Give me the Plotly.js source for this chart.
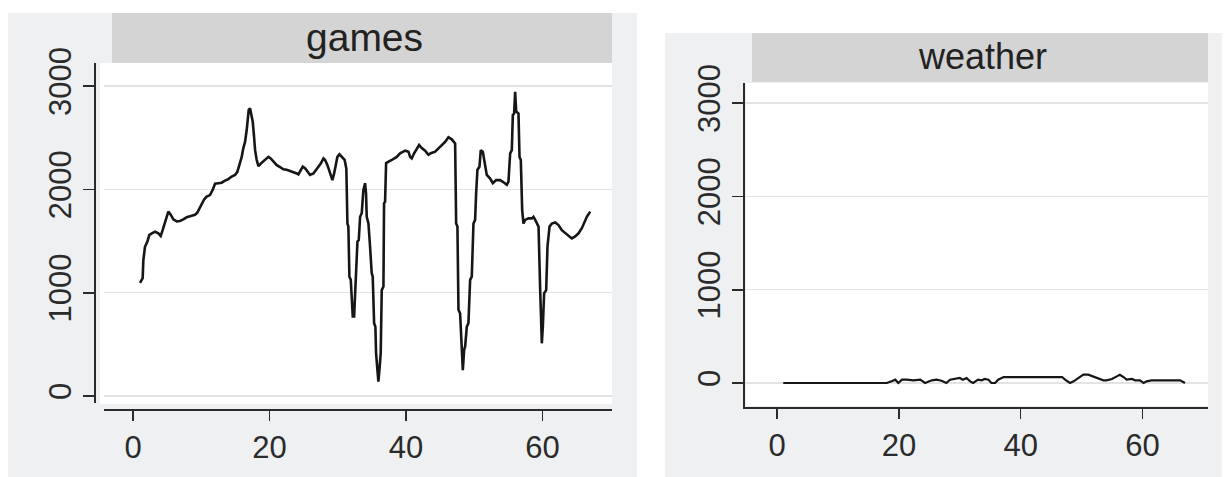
<!DOCTYPE html>
<html>
<head>
<meta charset="utf-8">
<script src="https://cdn.plot.ly/plotly-3.0.1.min.js"></script>
<style>
  html, body { margin: 0; padding: 0; background: #ffffff; }
  #chart { width: 1228px; height: 477px; }
</style>
</head>
<body>
<div id="chart"></div>
<script>
// ---- data ----
const panelTitles = ["games", "weather"];
const xTickVals = [0, 20, 40, 60];
const yTickVals = [0, 1000, 2000, 3000];

const gamesWeek = [1.0,1.39,1.49,1.73,2.08,2.37,2.86,3.2,3.69,4.03,4.32,4.66,4.9,5.15,5.5,5.89,6.38,6.86,7.35,7.84,8.58,9.06,9.4,9.7,10.04,10.38,10.77,11.26,11.65,12.0,12.48,12.97,13.46,13.95,14.44,14.93,15.27,15.57,15.91,16.15,16.4,16.64,16.79,16.94,17.13,17.38,17.53,17.72,17.87,18.11,18.36,18.7,19.09,19.58,19.82,20.16,20.56,21.05,21.54,22.02,22.51,23.0,23.49,23.98,24.22,24.47,24.86,25.2,25.54,25.93,26.42,26.82,27.16,27.5,27.9,28.14,28.48,28.77,29.02,29.21,29.46,29.7,29.94,30.24,30.58,31.0,31.25,31.41,31.55,31.7,31.9,32.19,32.39,32.53,32.68,32.88,33.07,33.27,33.51,33.75,34.0,34.14,34.24,34.49,34.73,34.97,35.12,35.32,35.51,35.61,35.81,35.95,36.1,36.29,36.44,36.69,36.78,36.93,37.08,37.42,37.91,38.64,39.13,39.87,40.36,40.6,40.84,41.19,41.58,41.92,42.31,42.8,43.29,43.63,44.27,45.0,45.73,46.22,46.71,47.2,47.35,47.54,47.69,47.93,48.18,48.33,48.52,48.67,48.91,49.15,49.4,49.64,49.89,50.13,50.28,50.47,50.77,50.96,51.26,51.45,51.65,51.84,52.33,52.73,53.21,53.8,54.39,54.78,55.02,55.27,55.51,55.66,55.85,56.0,56.15,56.49,56.64,56.83,57.03,57.22,57.47,57.96,58.45,58.69,58.94,59.18,59.43,59.67,59.81,59.91,60.06,60.25,60.55,60.74,61.04,61.38,61.87,62.36,62.84,63.58,64.31,64.8,65.29,65.78,66.51,67.0];
const games = [1095,1140,1315,1445,1495,1560,1580,1590,1575,1550,1605,1670,1735,1785,1755,1710,1690,1695,1710,1730,1745,1755,1775,1815,1865,1900,1930,1945,1995,2055,2060,2065,2085,2100,2125,2140,2170,2235,2315,2400,2460,2575,2670,2770,2785,2720,2655,2510,2380,2285,2225,2250,2270,2300,2315,2300,2270,2235,2215,2195,2190,2180,2170,2155,2145,2180,2220,2205,2170,2140,2155,2190,2215,2250,2300,2285,2235,2170,2125,2090,2155,2250,2315,2340,2315,2285,2200,1670,1640,1155,1125,770,770,1025,1190,1495,1510,1735,1770,1995,2060,1960,1735,1670,1445,1190,1155,705,670,415,250,140,250,415,1025,1060,1865,1880,2255,2270,2285,2315,2350,2375,2365,2315,2300,2350,2400,2430,2400,2375,2335,2350,2365,2415,2460,2505,2485,2445,1670,1640,835,800,480,250,445,480,670,705,1125,1155,1670,1705,1960,2190,2220,2380,2365,2285,2220,2140,2105,2060,2090,2090,2065,2045,2075,2350,2380,2720,2735,2945,2755,2735,2315,2285,1800,1670,1705,1720,1720,1735,1705,1670,1640,1025,800,510,670,995,1025,1445,1640,1670,1680,1655,1605,1560,1525,1545,1575,1625,1735,1785];

const weatherWeek = [1,18,18.8,19.4,19.9,20.5,21.3,22.4,23.5,24.3,25.4,26.2,27.0,27.8,28.4,29.2,30.0,30.5,31.1,31.7,32.2,33.0,33.6,34.1,34.7,35.2,35.8,36.3,37.2,37.7,46.8,47.3,48.1,48.7,49.2,50.3,51.1,51.9,52.8,53.6,54.1,55.0,55.8,56.3,56.9,57.4,58.3,58.8,59.6,60.2,60.7,61.5,62.6,64.5,66.2,67.0];
const weather = [0,0,18,36,0,36,36,29,36,0,29,36,25,0,36,43,54,36,54,18,0,36,29,43,36,0,0,36,64,64,64,36,0,18,43,89,89,71,54,29,29,43,71,89,64,36,43,29,29,0,18,29,29,29,29,0];

// ---- layout helpers (pixel -> paper) ----
const W = 1228, H = 477;
const px = v => v / W;
const py = v => 1 - v / H;
const FONT = "'Liberation Sans', Arial, sans-serif";
const INK = '#2b2b2b';

function rect(x0, y0, x1, y1, color) {
  return { type: 'rect', xref: 'paper', yref: 'paper', layer: 'below',
           x0: px(x0), x1: px(x1), y0: py(y1), y1: py(y0),
           fillcolor: color, line: { width: 0 } };
}

const traces = [
  { x: gamesWeek, y: games, xaxis: 'x', yaxis: 'y', type: 'scatter', mode: 'lines',
    line: { color: '#161616', width: 2.6 }, hoverinfo: 'skip', showlegend: false },
  { x: weatherWeek, y: weather, xaxis: 'x2', yaxis: 'y2', type: 'scatter', mode: 'lines',
    line: { color: '#161616', width: 2.2 }, hoverinfo: 'skip', showlegend: false }
];

const tickFont = { family: FONT, size: 31, color: INK };
const baseX = { showline: true, linecolor: INK, linewidth: 1.6, ticks: 'outside', ticklen: 10,
  tickwidth: 1.6, tickcolor: INK, tickvals: xTickVals, showgrid: false, zeroline: false,
  tickfont: tickFont, fixedrange: true };
const baseY = { showline: true, linecolor: INK, linewidth: 1.6, ticks: 'outside', ticklen: 11,
  tickwidth: 1.6, tickcolor: INK, tickvals: yTickVals, tickangle: -90, showgrid: true,
  gridcolor: '#e3e3e3', gridwidth: 1.5, zeroline: false, tickfont: tickFont, fixedrange: true };

const layout = {
  width: W, height: H,
  margin: { l: 0, r: 0, t: 0, b: 0, pad: 0 },
  paper_bgcolor: '#ffffff',
  plot_bgcolor: 'rgba(0,0,0,0)',
  showlegend: false,
  xaxis: Object.assign({}, baseX, { domain: [px(104), px(612)], range: [-4.28, 70.2],
    anchor: 'free', position: py(409) }),
  yaxis: Object.assign({}, baseY, { domain: [py(403), py(63)], range: [-68, 3224],
    anchor: 'free', position: px(94) }),
  xaxis2: Object.assign({}, baseX, { domain: [px(745), px(1208)], range: [-5.29, 70.78],
    anchor: 'y2' }),
  yaxis2: Object.assign({}, baseY, { domain: [py(407), py(83)], range: [-257, 3215],
    anchor: 'x2' }),
  shapes: [
    rect(8, 13, 637, 477, '#eef0f2'),
    rect(665, 33, 1222, 477, '#eef0f2'),
    rect(100, 63, 612, 404, '#ffffff'),
    rect(746, 83, 1208, 406, '#ffffff'),
    rect(112, 13, 612, 63, '#d4d4d4'),
    rect(752, 33, 1208, 82, '#d4d4d4')
  ],
  annotations: [
    { text: panelTitles[0], xref: 'paper', yref: 'paper', x: px(364), y: py(37),
      xanchor: 'center', yanchor: 'middle', showarrow: false,
      font: { family: FONT, size: 39, color: '#222222' } },
    { text: panelTitles[1], xref: 'paper', yref: 'paper', x: px(982), y: py(56),
      xanchor: 'center', yanchor: 'middle', showarrow: false,
      font: { family: FONT, size: 36, color: '#222222' } }
  ]
};

Plotly.newPlot('chart', traces, layout, { displayModeBar: false, staticPlot: true });
</script>
</body>
</html>
